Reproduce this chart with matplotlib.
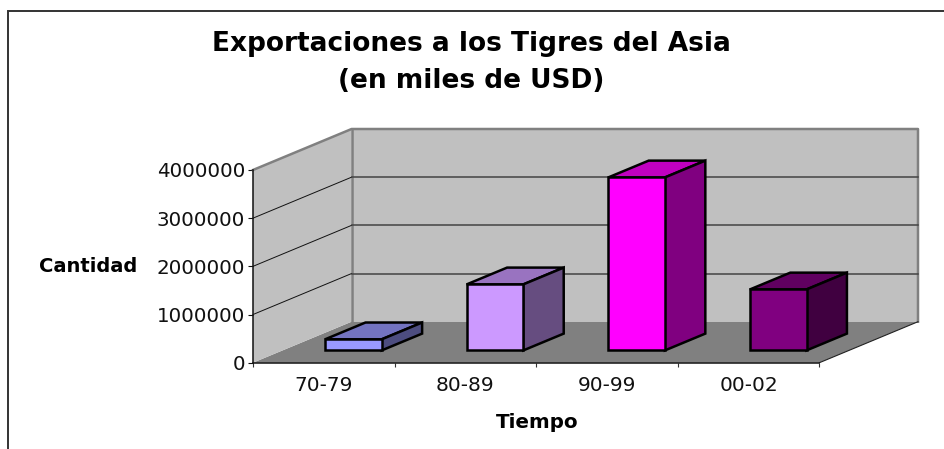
# coding:utf-8
import matplotlib
matplotlib.use("Agg")
import matplotlib.pyplot as plt
from matplotlib.lines import Line2D
from matplotlib.patches import Polygon

categories = ["70-79", "80-89", "90-99", "00-02"]
values = [230000, 1370000, 3590000, 1265000]
front_colors = ["#9999ff", "#cc99ff", "#ff00ff", "#800080"]
top_colors = ["#7373c0", "#9973c0", "#c000c0", "#600060"]
side_colors = ["#4d4d80", "#664d80", "#800080", "#400040"]
y_ticks = [0, 1000000, 2000000, 3000000, 4000000]
y_max = 4000000

W, H = 945, 449
# oblique offset of the back wall, in data units
depth_x = 98.5 / 141.5
depth_y = 41 / 48.2 * 1e6
bar_width = 0.4
bar_z = (0.30, 0.71)


def proj(x, v, z):
    return x + depth_x * z, v + depth_y * z


def poly(ax, pts, **kw):
    ax.add_patch(Polygon(pts, closed=True, clip_on=False, **kw))


plt.rcParams["font.family"] = "DejaVu Sans"
fig = plt.figure(figsize=(W / 100, H / 100), dpi=100)

# chart border: only left and top show, the rest is cropped away
fig.add_artist(Line2D([8 / W, 8 / W, 1], [0, 1 - 10.7 / H, 1 - 10.7 / H], transform=fig.transFigure,
                      color="#333333", lw=1.4, solid_joinstyle="miter"))

left, right, bottom, top = 253, 918, 362.7, 129
ax = fig.add_axes([left / W, 1 - bottom / H, (right - left) / W, (bottom - top) / H])
ax.set_xlim(0, len(categories) + depth_x)
ax.set_ylim(0, y_max + depth_y)
ax.patch.set_visible(False)

n = len(categories)
# floor, side wall, back wall
poly(ax, [proj(0, 0, 0), proj(n, 0, 0), proj(n, 0, 1), proj(0, 0, 1)], fc="#808080", ec="none", zorder=1)
poly(ax, [proj(0, 0, 0), proj(0, 0, 1), proj(0, y_max, 1), proj(0, y_max, 0)], fc="#c0c0c0", ec="none", zorder=1)
poly(ax, [proj(0, 0, 1), proj(n, 0, 1), proj(n, y_max, 1), proj(0, y_max, 1)], fc="#c0c0c0", ec="none", zorder=1)

# wall outlines
wall_kw = dict(color="#808080", lw=1.8, clip_on=False, zorder=2, solid_capstyle="projecting")
ax.plot(*zip(proj(0, 0, 1), proj(0, y_max, 1)), **wall_kw)
ax.plot(*zip(proj(0, y_max, 0), proj(0, y_max, 1), proj(n, y_max, 1), proj(n, 0, 1)), **wall_kw)
ax.plot(*zip(proj(n, 0, 0), proj(n, 0, 1)), color="#222222", lw=0.8, clip_on=False, zorder=2)

# gridlines
for v in y_ticks[1:-1]:
    ax.plot(*zip(proj(0, v, 0), proj(0, v, 1)), color="#111111", lw=0.7, clip_on=False, zorder=2)
    ax.plot(*zip(proj(0, v, 1), proj(n, v, 1)), color="#444444", lw=1.1, clip_on=False, zorder=2)

# bars
edge = dict(ec="black", lw=1.8, joinstyle="miter", zorder=4)
for i, v in enumerate(values):
    x0 = i + 0.5 - bar_width / 2
    x1 = i + 0.5 + bar_width / 2
    z0, z1 = bar_z
    poly(ax, [proj(x0, v, z0), proj(x1, v, z0), proj(x1, v, z1), proj(x0, v, z1)], fc=top_colors[i], **edge)
    poly(ax, [proj(x1, 0, z0), proj(x1, 0, z1), proj(x1, v, z1), proj(x1, v, z0)], fc=side_colors[i], **edge)
    poly(ax, [proj(x0, 0, z0), proj(x1, 0, z0), proj(x1, v, z0), proj(x0, v, z0)], fc=front_colors[i], **edge)

# axes
for s in ["top", "right"]:
    ax.spines[s].set_visible(False)
ax.spines["left"].set_bounds(0, y_max)
ax.spines["bottom"].set_bounds(0, n)
for s in ["left", "bottom"]:
    ax.spines[s].set_zorder(3)
    ax.spines[s].set_color("#111111")
    ax.spines[s].set_linewidth(1.1)
ax.set_yticks(y_ticks)
ax.set_yticklabels([str(v) for v in y_ticks], fontsize=14.3, color="#111111")
ax.set_xticks(range(n + 1))
ax.set_xticklabels([""] * (n + 1))
ax.tick_params(axis="y", length=3.5, width=0.8, color="#111111", pad=2)
ax.tick_params(axis="x", length=3, width=0.8, color="#333333", pad=2)
for i, c in enumerate(categories):
    ax.annotate(c, (i + 0.5, 0), xytext=(0, -23), textcoords="offset pixels", ha="center", va="center",
                fontsize=14.5, color="#111111", annotation_clip=False)

fig.text(537 / W, 1 - 423 / H, "Tiempo", ha="center", va="center", fontsize=14.3, fontweight="bold")
fig.text(88.5 / W, 1 - 267 / H, "Cantidad", ha="center", va="center", fontsize=14, fontweight="bold")
fig.text(471 / W, 1 - 62.5 / H, "Exportaciones a los Tigres del Asia\n(en miles de USD)", ha="center", va="center",
         fontsize=19, fontweight="bold", linespacing=1.53)

fig.savefig("out.png", dpi=100)
